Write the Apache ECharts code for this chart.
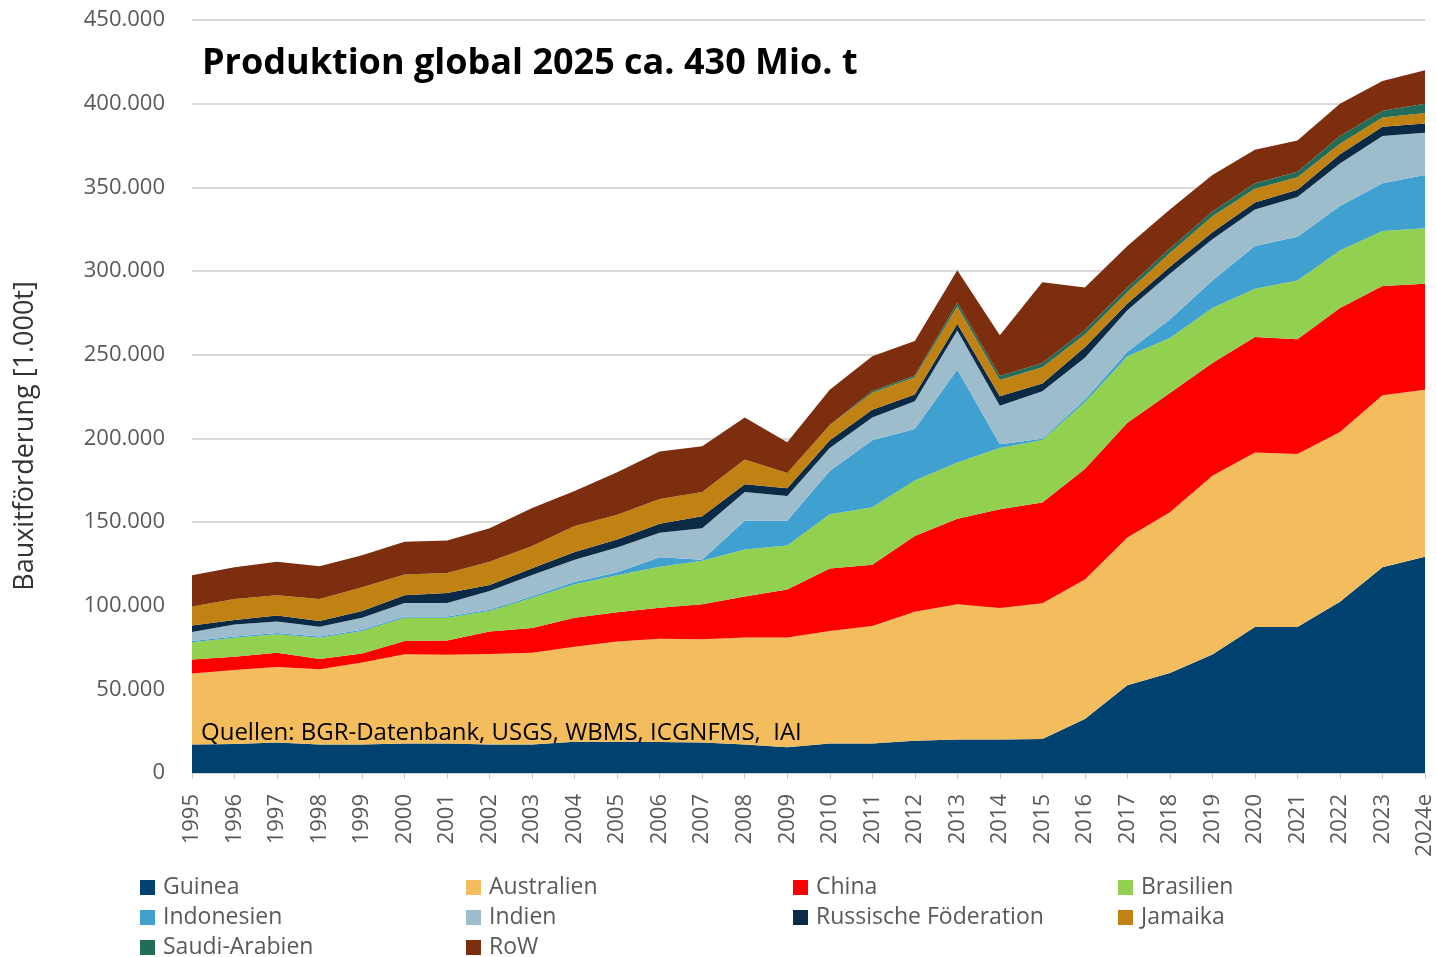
<!DOCTYPE html>
<html>
<head>
<meta charset="utf-8">
<script src="https://cdn.jsdelivr.net/npm/echarts@6/dist/echarts.min.js"></script>
<style>
  html, body { margin: 0; padding: 0; background: #fff; }
  #chart { width: 1436px; height: 957px; }
</style>
</head>
<body>
<div id="chart"></div>
<script>
// Bauxitförderung in 1.000 t
const years = ['1995', '1996', '1997', '1998', '1999', '2000', '2001', '2002', '2003', '2004',
  '2005', '2006', '2007', '2008', '2009', '2010', '2011', '2012', '2013', '2014',
  '2015', '2016', '2017', '2018', '2019', '2020', '2021', '2022', '2023', '2024e']

const guinea = [17100, 17400, 18200, 17100, 17100, 17600, 17600, 17100, 17100, 18700, 18700, 18500, 18200, 17000, 15400, 17700, 17700, 19300, 20000, 20000, 20300, 32300, 52400, 59800, 70800, 87200, 87200, 102300, 122900, 129200]
const australien = [42300, 44100, 45200, 44900, 48900, 53300, 53000, 54000, 54800, 56700, 59900, 61800, 61700, 64000, 65600, 67200, 70200, 77000, 80900, 78600, 81200, 83300, 88300, 96000, 106900, 104300, 103400, 101500, 102800, 99800]
const china = [8500, 8000, 8500, 6200, 5400, 8000, 8600, 13400, 14700, 17400, 17400, 18500, 21000, 24500, 28600, 37300, 36600, 45300, 51000, 59000, 60200, 66100, 68600, 71300, 67300, 69100, 68600, 74100, 65300, 63400]
const brasilien = [10200, 11300, 11000, 12600, 13400, 13900, 13600, 12300, 18200, 20000, 22200, 24400, 25900, 28100, 26300, 32500, 34300, 33200, 33600, 36600, 37300, 39900, 39800, 32900, 32900, 28800, 35100, 34300, 32900, 33200]
const indonesien = [800, 800, 800, 800, 800, 800, 800, 800, 900, 1400, 1800, 5800, 600, 17200, 14900, 25800, 40000, 30800, 55600, 2300, 800, 1400, 2700, 11000, 16400, 25500, 26100, 26600, 28600, 31800]
const indien = [5300, 7200, 6900, 5800, 7200, 8000, 8000, 11200, 12600, 13300, 14800, 14600, 18800, 17100, 14800, 13700, 13700, 16500, 23400, 22900, 28400, 25200, 24700, 27400, 24700, 21900, 23800, 25500, 28200, 25200]
const russland = [4000, 2600, 3500, 3500, 4000, 4600, 5900, 3500, 4000, 4600, 4800, 5400, 7300, 4600, 4600, 4600, 4600, 4100, 4000, 5700, 4600, 6300, 4100, 4200, 4100, 4200, 4400, 5500, 5500, 5500]
const jamaika = [11300, 12600, 12100, 13100, 14200, 12500, 12000, 13900, 13400, 15500, 14700, 14800, 14400, 14800, 9100, 9100, 10200, 10300, 10300, 9800, 9700, 7500, 6900, 8200, 9600, 8200, 7400, 6300, 5500, 6300]
const saudiArabien = [0, 0, 0, 0, 0, 0, 0, 0, 0, 0, 0, 0, 0, 0, 0, 0, 1000, 1100, 2200, 2300, 2500, 2700, 2700, 2700, 2800, 3300, 3300, 4600, 4100, 5500]
const row = [18700, 19000, 20000, 19500, 19200, 19500, 19500, 20100, 22700, 20900, 25400, 28400, 27400, 25200, 18300, 21100, 20700, 20600, 19500, 24400, 48300, 25500, 24700, 23300, 21900, 20000, 18700, 19200, 17800, 20100]

const seriesList = [
  { name: 'Guinea', data: guinea, color: '#00426f' },
  { name: 'Australien', data: australien, color: '#f3bc5d' },
  { name: 'China', data: china, color: '#ff0000' },
  { name: 'Brasilien', data: brasilien, color: '#92d050' },
  { name: 'Indonesien', data: indonesien, color: '#40a0d0' },
  { name: 'Indien', data: indien, color: '#9dbdcd' },
  { name: 'Russische Föderation', data: russland, color: '#0b2a45' },
  { name: 'Jamaika', data: jamaika, color: '#c08212' },
  { name: 'Saudi-Arabien', data: saudiArabien, color: '#236d58' },
  { name: 'RoW', data: row, color: '#7c2e0e' }
]

const font = 'Open Sans'
const grey = '#595959'

const fmt = v => String(v).replace(/\B(?=(\d{3})+(?!\d))/g, '.')

// one legend per column, the reference lays them out in a 4-column grid
const legendCol = (left, names) => ({
  orient: 'vertical',
  left: left,
  top: 876,
  height: 120,
  padding: 0,
  itemWidth: 15,
  itemHeight: 15,
  itemGap: 7,
  icon: 'rect',
  data: names,
  textStyle: { color: grey, fontSize: 23, fontFamily: font, lineHeight: 22, padding: [0, 0, 0, 3] }
})

const chart = echarts.init(document.getElementById('chart'))

chart.setOption({
  animation: false,
  backgroundColor: '#fff',
  color: seriesList.map(s => s.color),
  title: {
    text: 'Produktion global 2025 ca. 430 Mio. t',
    left: 197,
    top: 41,
    textStyle: { fontFamily: font, fontSize: 36, fontWeight: 'bold', color: '#000' }
  },
  legend: [
    legendCol(140, ['Guinea', 'Indonesien', 'Saudi-Arabien']),
    legendCol(466, ['Australien', 'Indien', 'RoW']),
    legendCol(793, ['China', 'Russische Föderation']),
    legendCol(1118, ['Brasilien', 'Jamaika'])
  ],
  grid: { left: 192, right: 9, top: 20, bottom: 184 },
  xAxis: {
    type: 'category',
    data: years,
    boundaryGap: false,
    axisLine: { lineStyle: { color: '#d0d0d0' } },
    axisTick: { show: true, length: 6, lineStyle: { color: '#c8c8c8' } },
    axisLabel: { rotate: 90, margin: 21, color: grey, fontSize: 22, fontFamily: font, interval: 0 }
  },
  yAxis: {
    type: 'value',
    min: 0,
    max: 450000,
    interval: 50000,
    axisLine: { show: false },
    axisTick: { show: false },
    axisLabel: { color: grey, fontSize: 22, fontFamily: font, margin: 27, formatter: fmt },
    splitLine: { lineStyle: { color: '#d9d9d9', width: 2 } }
  },
  graphic: [
    {
      type: 'text',
      z: 100,
      style: {
        text: 'Quellen: BGR-Datenbank, USGS, WBMS, ICGNFMS,  IAI',
        x: 201,
        y: 733,
        verticalAlign: 'middle',
        fill: '#000',
        font: '24px "Open Sans"'
      }
    },
    {
      type: 'text',
      x: 25,
      y: 436,
      rotation: Math.PI / 2,
      style: {
        text: 'Bauxitförderung [1.000t]',
        align: 'center',
        verticalAlign: 'middle',
        fill: '#333',
        font: '27px "Open Sans"'
      }
    }
  ],
  series: seriesList.map(s => ({
    name: s.name,
    type: 'line',
    stack: 'total',
    data: s.data,
    showSymbol: false,
    symbol: 'none',
    lineStyle: { width: 0 },
    areaStyle: { color: s.color, opacity: 1 },
    emphasis: { disabled: true }
  }))
})
</script>
</body>
</html>
